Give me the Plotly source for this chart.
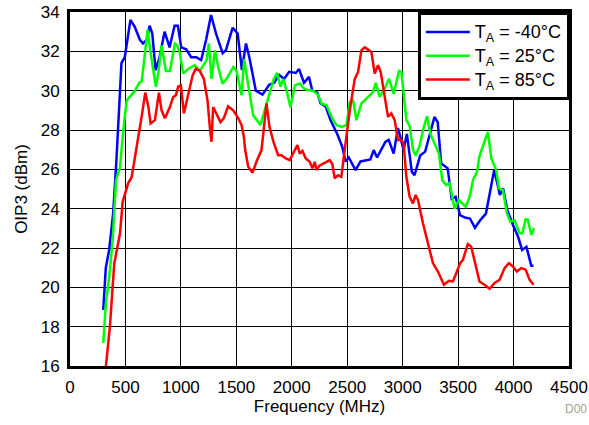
import plotly.graph_objects as go

# ---- data ----
blue_f = [300, 323, 353, 389, 419, 464, 494, 545, 584, 629, 658, 694, 718, 742, 772, 808, 853, 898, 943, 973,
          1003, 1048, 1093, 1138, 1183, 1228, 1272, 1317, 1377, 1407, 1467, 1512, 1550, 1587, 1617, 1676, 1736,
          1796, 1841, 1886, 1931, 1976, 2036, 2065, 2110, 2155, 2185, 2230, 2260, 2305, 2350, 2410, 2455, 2485,
          2514, 2575, 2620, 2709, 2739, 2769, 2844, 2874, 2919, 2957, 2979, 3008, 3038, 3083, 3107, 3158, 3203,
          3248, 3287, 3316, 3347, 3406, 3442, 3478, 3517, 3562, 3607, 3652, 3697, 3751, 3787, 3825, 3861, 3876,
          3906, 3945, 3996, 4041, 4077, 4116, 4137, 4160, 4180]
blue_v = [18.85, 21.0, 21.9, 23.75, 26.5, 31.4, 31.7, 33.6, 33.25, 32.6, 32.4, 32.6, 33.3, 32.9, 31.05, 31.7, 33.0,
          32.2, 33.3, 33.3, 32.2, 32.1, 31.7, 31.7, 31.55, 32.6, 33.85, 32.9, 31.9, 32.07, 33.2, 32.9, 31.05, 32.4,
          31.7, 30.0, 29.8, 30.3, 30.4, 30.8, 30.6, 30.96, 30.9, 31.1, 30.4, 30.7, 30.0, 29.9, 29.35, 29.2, 28.5,
          27.8, 27.15, 26.4, 26.6, 25.96, 26.4, 26.5, 26.98, 26.6, 27.4, 27.5, 26.8, 28.1, 27.65, 26.98, 27.8,
          25.87, 25.7, 26.7, 26.9, 27.8, 28.67, 28.4, 26.3, 26.05, 24.5, 24.6, 23.67, 23.55, 23.5, 23.03, 23.4,
          23.75, 24.9, 25.96, 25.1, 24.7, 25.03, 23.9, 23.16, 22.57, 21.9, 22.06, 21.6, 21.1, 21.1]

green_f = [300, 324, 354, 385, 415, 451, 481, 511, 541, 586, 624, 646, 676, 700, 727, 775, 796, 826, 865, 901, 946,
           967, 991, 1021, 1066, 1126, 1171, 1232, 1252, 1276, 1307, 1336, 1376, 1412, 1472, 1502, 1547, 1571, 1601,
           1652, 1717, 1757, 1802, 1838, 1868, 1898, 1923, 1953, 1989, 2028, 2073, 2103, 2133, 2193, 2238, 2268,
           2313, 2358, 2403, 2448, 2493, 2523, 2553, 2583, 2628, 2673, 2733, 2757, 2793, 2838, 2877, 2919, 2967,
           2989, 3018, 3034, 3063, 3093, 3117, 3153, 3183, 3219, 3250, 3288, 3327, 3357, 3393, 3423, 3468, 3507,
           3568, 3604, 3634, 3670, 3694, 3769, 3799, 3844, 3868, 3904, 3940, 3971, 4010, 4055, 4079, 4109, 4129,
           4160, 4184]
green_v = [17.17, 19.2, 20.55, 22.4, 25.45, 26.1, 28.0, 29.5, 29.7, 30.0, 30.4, 30.47, 31.9, 33.1, 31.9, 30.2,
           30.87, 32.3, 31.0, 31.0, 32.4, 32.3, 31.9, 30.87, 31.1, 31.3, 31.0, 31.55, 32.4, 30.6, 32.05, 31.2,
           30.36, 30.6, 31.2, 31.0, 29.77, 31.6, 30.5, 28.75, 28.25, 29.0, 29.9, 30.6, 30.9, 30.2, 30.6, 30.0,
           29.14, 30.27, 30.36, 30.15, 30.05, 30.0, 29.77, 29.35, 29.26, 28.67, 28.25, 28.16, 28.25, 29.43, 29.5,
           28.5, 29.35, 29.6, 29.93, 30.4, 29.68, 30.1, 30.6, 29.85, 31.0, 30.95, 29.5, 28.5, 28.2, 27.0, 26.7,
           27.2, 27.99, 28.7, 27.8, 27.3, 26.8, 25.45, 25.2, 25.3, 24.0, 24.44, 24.1, 24.6, 25.45, 25.87, 26.7,
           27.9, 26.56, 25.96, 25.03, 24.95, 23.77, 23.34, 23.4, 22.75, 22.75, 23.46, 23.43, 22.67, 23.0]

red_f = [324, 360, 399, 451, 475, 525, 556, 601, 631, 646, 679, 706, 727, 766, 802, 826, 856, 901, 931, 955, 976,
         1000, 1027, 1066, 1106, 1135, 1171, 1207, 1240, 1261, 1276, 1291, 1321, 1357, 1387, 1426, 1472, 1517, 1547,
         1568, 1580, 1607, 1646, 1682, 1727, 1748, 1772, 1799, 1835, 1877, 1907, 1946, 1982, 2027, 2051, 2072,
         2096, 2126, 2162, 2186, 2207, 2222, 2252, 2297, 2342, 2366, 2387, 2417, 2447, 2477, 2507, 2523, 2568,
         2598, 2628, 2658, 2697, 2718, 2748, 2778, 2802, 2838, 2868, 2898, 2928, 2958, 2988, 3009, 3033, 3063,
         3093, 3117, 3138, 3183, 3228, 3273, 3318, 3348, 3372, 3417, 3453, 3483, 3519, 3543, 3588, 3618, 3657,
         3693, 3738, 3784, 3829, 3874, 3919, 3958, 3994, 4030, 4070, 4109, 4145, 4181]
red_v = [16.0, 18.0, 21.2, 22.75, 24.35, 25.3, 25.6, 27.15, 28.0, 28.67, 29.9, 29.2, 28.33, 28.5, 29.9, 29.0, 28.6,
         29.17, 29.68, 29.77, 30.2, 30.27, 28.84, 29.77, 30.78, 31.12, 31.0, 30.6, 29.5, 28.16, 27.4, 29.17, 28.84,
         28.4, 28.6, 29.2, 29.0, 28.6, 28.25, 27.65, 26.98, 26.13, 25.83, 26.4, 26.98, 28.0, 29.35, 28.16, 27.4,
         26.72, 26.72, 26.55, 26.47, 26.98, 27.23, 26.8, 26.94, 26.55, 26.38, 26.05, 26.38, 25.96, 26.2, 26.33,
         26.47, 26.27, 25.54, 25.7, 25.62, 26.98, 28.5, 29.0, 30.6, 30.95, 32.05, 32.2, 32.05, 31.96, 30.87, 31.3,
         30.95, 29.68, 28.67, 28.84, 28.5, 27.48, 27.5, 27.3, 25.62, 24.6, 24.27, 24.7, 24.44, 23.26, 22.24,
         21.23, 20.8, 20.47, 20.13, 20.33, 20.3, 20.72, 21.23, 21.4, 22.2, 22.07, 21.06, 20.3, 20.13, 19.93,
         20.22, 20.38, 20.98, 21.23, 21.06, 20.8, 20.98, 20.9, 20.38, 20.13]

series_names = ["T<sub>A</sub> = -40°C", "T<sub>A</sub> = 25°C", "T<sub>A</sub> = 85°C"]
series_colors = ["#0000FF", "#00FF00", "#FF0000"]

x_ticks = [0, 500, 1000, 1500, 2000, 2500, 3000, 3500, 4000, 4500]
y_ticks = [16, 18, 20, 22, 24, 26, 28, 30, 32, 34]

FONT = "Liberation Sans, Arial, sans-serif"

fig = go.Figure()
for fx, fv, name, col in zip([blue_f, green_f, red_f], [blue_v, green_v, red_v], series_names, series_colors):
    fig.add_trace(go.Scatter(x=fx, y=fv, mode="lines",
                             name="<span style='font-size:18px'>" + name + "</span>",
                             line=dict(color=col, width=2.5)))

axis_common = dict(
    showgrid=True, gridcolor="#000000", gridwidth=1,
    showline=True, linecolor="#000000", linewidth=3, mirror=True,
    zeroline=False, ticks="outside", ticklen=4, tickcolor="rgba(0,0,0,0)",
    tickfont=dict(family=FONT, size=17, color="#000000"),
    automargin=False,
)

fig.update_layout(
    width=589, height=425,
    margin=dict(l=70, r=20, t=12, b=59),
    paper_bgcolor="white", plot_bgcolor="white",
    font=dict(family=FONT, size=17, color="#000000"),
    showlegend=True,
    legend=dict(x=0.697, y=1.0, xanchor="left", yanchor="top",
                bgcolor="white", bordercolor="#000000", borderwidth=3,
                font=dict(family=FONT, size=16, color="#000000"),
                itemwidth=44, tracegroupgap=0),
    xaxis=dict(range=[0, 4500], tickvals=x_ticks, ticktext=[str(t) for t in x_ticks],
               title=dict(text="Frequency (MHz)", font=dict(family=FONT, size=17), standoff=2),
               **axis_common),
    yaxis=dict(range=[16, 34], tickvals=y_ticks, ticktext=[str(t) for t in y_ticks],
               title=dict(text="OIP3 (dBm)", font=dict(family=FONT, size=17), standoff=9),
               **axis_common),
    annotations=[dict(text="D00", xref="paper", yref="paper", x=1.04, y=-0.122,
                      xanchor="right", yanchor="middle", showarrow=False,
                      font=dict(family=FONT, size=12, color="#A0A0A0"))],
)

fig.write_html("out.html", config={"displayModeBar": False},
               post_script="document.body.style.margin='0';document.body.style.padding='0';")
